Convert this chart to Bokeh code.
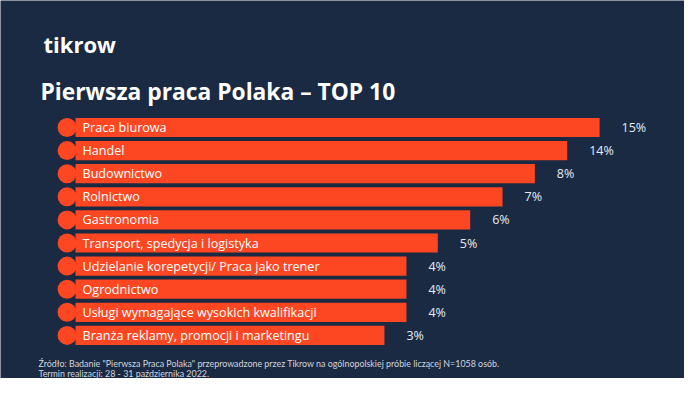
from bokeh.plotting import figure
from bokeh.models import Range1d, Label, ColumnDataSource
from bokeh.core.properties import value
from bokeh.embed import file_html
from bokeh.resources import INLINE

categories = [
    "Praca biurowa",
    "Handel",
    "Budownictwo",
    "Rolnictwo",
    "Gastronomia",
    "Transport, spedycja i logistyka",
    "Udzielanie korepetycji/ Praca jako trener",
    "Ogrodnictwo",
    "Usługi wymagające wysokich kwalifikacji",
    "Branża reklamy, promocji i marketingu",
]
values = [15, 14, 8, 7, 6, 5, 4, 4, 4, 3]
# displayed bar length (decorative ladder)
bar_length = [16.2, 15.2, 14.2, 13.2, 12.2, 11.2, 10.23, 10.23, 10.23, 9.55]
rank = list(range(len(categories)))

BG = "#1b2a43"
BAR = "#fd4722"
W, H = 684, 378

p = figure(width=W, height=H, output_backend="svg", toolbar_location=None,
           x_range=Range1d(0, W), y_range=Range1d(H, 0), min_border=0)
p.background_fill_color = BG
p.border_fill_color = BG
p.outline_line_color = None
p.axis.visible = False
p.grid.visible = False

px_per_unit = 32.35
bar_x0 = 75
row_y0 = 127
row_step = 23.1
p.extra_x_ranges = {"bars": Range1d(-bar_x0 / px_per_unit, (W - bar_x0) / px_per_unit)}
p.extra_y_ranges = {"ranks": Range1d((H - row_y0) / row_step, -row_y0 / row_step)}

src = ColumnDataSource(dict(
    cat=categories, val=values, length=bar_length, rank=rank,
    lab=[f"{v}%" for v in values],
))

p.hbar(y="rank", left=0, right="length", height=0.83, source=src,
       fill_color=BAR, line_color=None, x_range_name="bars", y_range_name="ranks")
p.scatter(x=-0.26, y="rank", size=19, source=src, fill_color=BAR, line_color=None,
          x_range_name="bars", y_range_name="ranks")
p.text(x=0, y="rank", text="cat", source=src, x_offset=7,
       text_font=value("Open Sans"), text_font_size="12.6px", text_color="#ffffff",
       text_baseline="middle", x_range_name="bars", y_range_name="ranks")
p.text(x="length", y="rank", text="lab", source=src, x_offset=22,
       text_font=value("Open Sans"), text_font_size="12.5px", text_color="#e6eaf0",
       text_baseline="middle", x_range_name="bars", y_range_name="ranks")

p.add_layout(Label(x=43, y=43, text="tikrow", text_font="Open Sans", text_font_style="bold",
                   text_font_size="22px", text_color="#ffffff", text_baseline="alphabetic"))
p.add_layout(Label(x=40, y=91, text="Pierwsza praca Polaka \u2013 TOP 10", text_font="Open Sans",
                   text_font_style="bold", text_font_size="22.8px", text_color="#ffffff",
                   text_baseline="alphabetic"))
p.add_layout(Label(x=38, y=363, text='Źródło: Badanie "Pierwsza Praca Polaka" przeprowadzone przez Tikrow na ogólnopolskiej próbie liczącej N=1058 osób.',
                   text_font="Lato", text_font_size="8.9px", text_color="#d0d6de",
                   text_baseline="middle"))
p.add_layout(Label(x=38, y=373, text="Termin realizacji: 28 - 31 października 2022.",
                   text_font="Lato", text_font_size="8.9px", text_color="#d0d6de",
                   text_baseline="middle"))

open("out.html", "w").write(file_html(p, INLINE))
